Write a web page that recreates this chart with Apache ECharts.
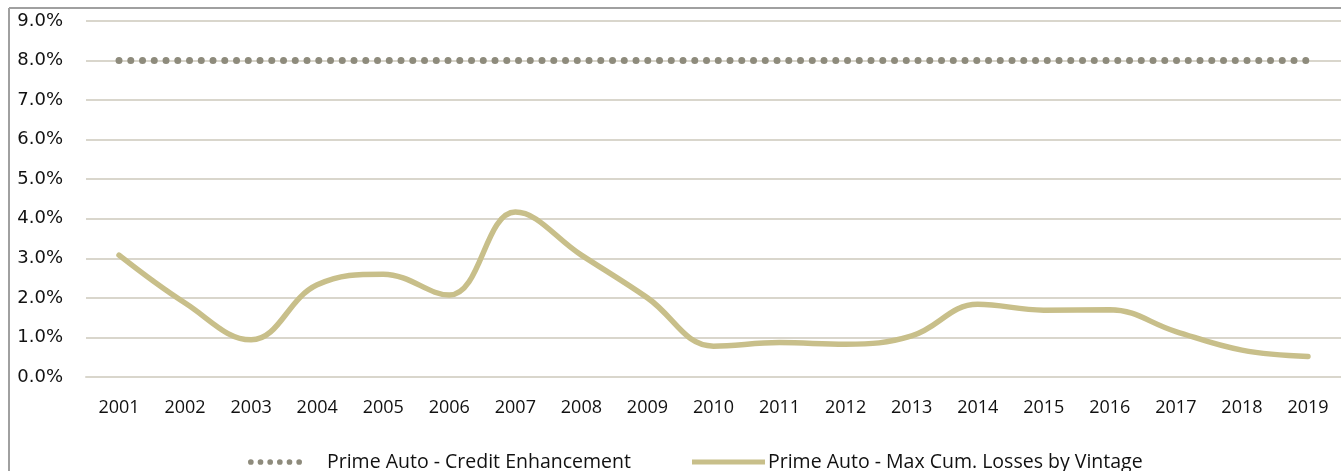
<!DOCTYPE html>
<html>
<head>
<meta charset="utf-8">
<script src="https://cdn.jsdelivr.net/npm/echarts@6/dist/echarts.min.js"></script>
<style>
html,body{margin:0;padding:0;background:#fff;}
#c{width:1341px;height:471px;}
</style>
</head>
<body>
<div id="c"></div>
<script>
var categories = ['2001','2002','2003','2004','2005','2006','2007','2008','2009','2010','2011','2012','2013','2014','2015','2016','2017','2018','2019'];
var creditEnhancement = [8.0,8.0,8.0,8.0,8.0,8.0,8.0,8.0,8.0,8.0,8.0,8.0,8.0,8.0,8.0,8.0,8.0,8.0,8.0];
var maxCumLosses = [3.08,1.87,0.94,2.33,2.60,2.07,4.17,3.08,2.00,0.78,0.87,0.83,1.04,1.84,1.69,1.70,1.15,0.68,0.52];
var yTicks = [0,1,2,3,4,5,6,7,8,9];
var seriesNames = ['Prime Auto - Credit Enhancement','Prime Auto - Max Cum. Losses by Vintage'];

var dotsIcon = 'path://M0,3a3,3 0 1,0 6,0a3,3 0 1,0 -6,0M10.2,3a3,3 0 1,0 6,0a3,3 0 1,0 -6,0M20.4,3a3,3 0 1,0 6,0a3,3 0 1,0 -6,0M30.6,3a3,3 0 1,0 6,0a3,3 0 1,0 -6,0M40.8,3a3,3 0 1,0 6,0a3,3 0 1,0 -6,0M51,3a3,3 0 1,0 6,0a3,3 0 1,0 -6,0';

var chart = echarts.init(document.getElementById('c'), null, {renderer:'canvas'});
chart.setOption({
  animation:false,
  backgroundColor:'#ffffff',
  grid:{left:86, right:-4, top:21, bottom:94, containLabel:false},
  xAxis:{
    type:'category',
    data:categories,
    boundaryGap:true,
    axisLine:{show:true, lineStyle:{color:'#d9d6cc', width:2}},
    axisTick:{show:false},
    axisLabel:{color:'#111', fontFamily:'Open Sans', fontSize:18, margin:22, interval:0}
  },
  yAxis:{
    type:'value',
    min:yTicks[0], max:yTicks[yTicks.length-1], interval:1,
    axisLine:{show:false},
    axisTick:{show:false},
    splitLine:{lineStyle:{color:'#d9d6cc', width:2}},
    axisLabel:{color:'#111', fontFamily:'DejaVu Sans', fontSize:18, margin:23,
      formatter:function(v){return v.toFixed(1)+'%';}}
  },
  legend:[
    {data:[{name:seriesNames[0], icon:dotsIcon}], left:248, top:452, padding:0, itemWidth:54, itemHeight:6,
     itemStyle:{color:'#8e8b7c'},
     textStyle:{color:'#111', fontFamily:'Open Sans', fontSize:19.5, padding:[0,0,0,20]}},
    {data:[{name:seriesNames[1], icon:'rect'}], left:692, top:452, padding:0, itemWidth:73, itemHeight:5,
     itemStyle:{color:'#c8bf8a'},
     textStyle:{color:'#111', fontFamily:'Open Sans', fontSize:19.5, padding:[0,0,0,-2]}}
  ],
  graphic:[
    {type:'line', shape:{x1:9,y1:8,x2:1341,y2:8}, style:{stroke:'#a0a0a0', lineWidth:2}, z:100},
    {type:'line', shape:{x1:9,y1:8,x2:9,y2:471}, style:{stroke:'#a0a0a0', lineWidth:2}, z:100}
  ],
  series:[
    {name:seriesNames[0], type:'line', data:creditEnhancement, symbol:'none',
     lineStyle:{color:'#8e8b7c', width:7, type:[0,11.75], cap:'round'},
     itemStyle:{color:'#8e8b7c'}, z:3},
    {name:seriesNames[1], type:'line', data:maxCumLosses, symbol:'none', smooth:0.4,
     lineStyle:{color:'#c8bf8a', width:5.5, cap:'round'},
     itemStyle:{color:'#c8bf8a'}, z:4}
  ]
});
</script>
</body>
</html>
